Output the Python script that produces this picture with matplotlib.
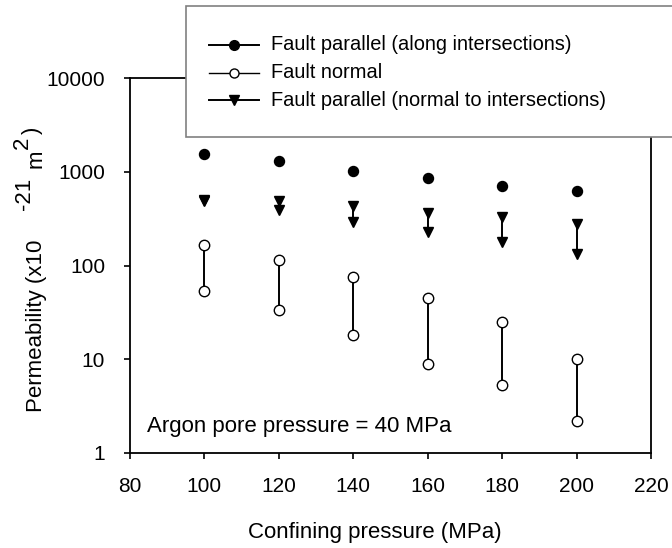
import matplotlib
matplotlib.use("Agg")
import matplotlib.pyplot as plt
from matplotlib.patches import Rectangle
from matplotlib.lines import Line2D

plt.rcParams['font.family'] = ['Liberation Sans', 'DejaVu Sans']

pressure = [100, 120, 140, 160, 180, 200]
along = [1540, 1310, 1016, 850, 703, 617]
normal_int_hi = [500, 491, 430, 366, 326, 277]
normal_int_lo = [485, 390, 291, 229, 180, 133]
fault_normal_hi = [165, 114, 75.5, 45.5, 25, 10]
fault_normal_lo = [53.6, 33.3, 18, 8.8, 5.26, 2.17]
xticks = [80, 100, 120, 140, 160, 180, 200, 220]
yticks = [1, 10, 100, 1000, 10000]
yticklabels = ['1', '10', '100', '1000', '10000']
legend_labels = ['Fault parallel (along intersections)', 'Fault normal',
                 'Fault parallel (normal to intersections)']

W, H = 672, 548
fig = plt.figure(figsize=(W / 100, H / 100), dpi=100)
ax = fig.add_axes([130 / W, 1 - 453 / H, (651 - 130) / W, (453 - 78) / H])

ax.set_yscale('log')
ax.set_xlim(80, 220)
ax.set_ylim(1, 10000)
ax.set_xticks(xticks)
ax.set_yticks(yticks)
ax.set_yticklabels(yticklabels)
ax.minorticks_off()
ax.tick_params(direction='out', length=4, width=1.2, labelsize=15)
ax.tick_params(axis='y', pad=14)
ax.tick_params(axis='x', pad=13)
for s in ax.spines.values():
    s.set_linewidth(1.3)

# connecting lines
ax.vlines(pressure, normal_int_lo, normal_int_hi, color='black', lw=1.4, zorder=2)
ax.vlines(pressure, fault_normal_lo, fault_normal_hi, color='black', lw=1.4, zorder=2)

ax.plot(pressure, along, 'o', color='black', ms=7.2, zorder=3)
ax.plot(pressure, normal_int_hi, 'v', color='black', ms=7.2, zorder=3)
ax.plot(pressure, normal_int_lo, 'v', color='black', ms=7.2, zorder=3)
ax.plot(pressure, fault_normal_hi, 'o', mfc='white', mec='black', mew=1, ms=7.5, zorder=3)
ax.plot(pressure, fault_normal_lo, 'o', mfc='white', mec='black', mew=1, ms=7.5, zorder=3)

ax.text(17 / 521, 21 / 375, 'Argon pore pressure = 40 MPa', fontsize=16,
        va='baseline', ha='left', transform=ax.transAxes)

fig.text(375 / W, 1 - 538 / H, 'Confining pressure (MPa)', fontsize=16,
         ha='center', va='baseline')

# y label pieces (superscripts drawn full size, as in the original)
ylab = dict(rotation=90, rotation_mode='anchor', ha='left', va='baseline', fontsize=16)
fig.text(42 / W, 1 - 412 / H, 'Permeability (x10', **ylab)
fig.text(30 / W, 1 - 210 / H, '-21', **ylab)
fig.text(42 / W, 1 - 168 / H, 'm', **ylab)
fig.text(28 / W, 1 - 149 / H, '2', **ylab)
fig.text(38 / W, 1 - 134 / H, ')', **ylab)

# legend box extending past the right edge
fig.add_artist(Rectangle((186 / W, 1 - 137 / H), 0.8, (137 - 6) / H, transform=fig.transFigure,
                         facecolor='white', edgecolor='#808080', lw=1.2, zorder=5))
styles = [
    dict(marker='o', color='black', ms=7, lw=1.4),
    dict(marker='o', color='black', mfc='white', mec='black', ms=6.5, lw=1.0),
    dict(marker='v', color='black', ms=7, lw=1.4),
]
rows = [45, 73, 100]
for lab, st, yr in zip(legend_labels, styles, rows):
    yf = 1 - yr / H
    fig.add_artist(Line2D([209 / W, 259 / W], [yf, yf], transform=fig.transFigure,
                          color='black', lw=st['lw'], zorder=6))
    mk = {k: v for k, v in st.items() if k != 'lw'}
    fig.add_artist(Line2D([234 / W], [yf], transform=fig.transFigure, ls='none', zorder=7, **mk))
    fig.text(271 / W, yf, lab, fontsize=14.4, va='center', ha='left', zorder=7)

fig.savefig('out.png', dpi=100)
